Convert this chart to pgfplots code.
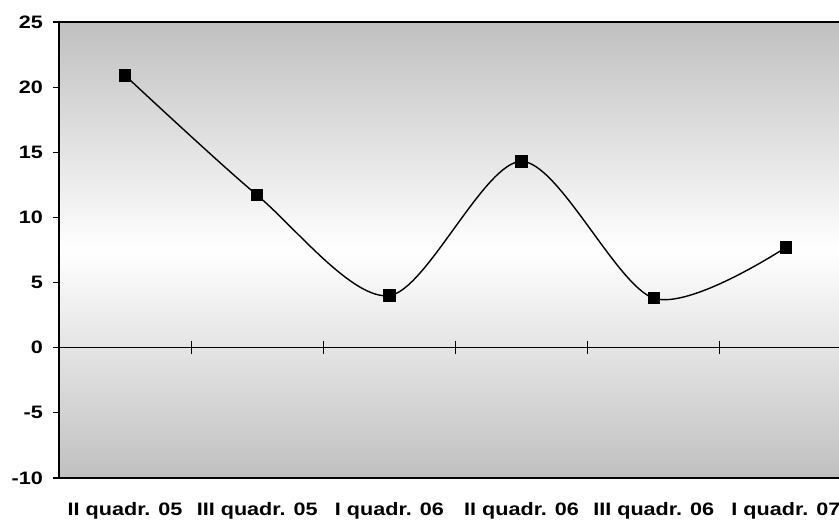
\documentclass[border=0pt]{standalone}
\usepackage{pgfplots}
\pgfplotsset{compat=1.18}
\usepackage{fontspec}
\setmainfont{Liberation Sans}
\newfontfamily\labfont{Liberation Sans Bold}[FakeStretch=1.2]
\definecolor{bggray}{RGB}{192,192,192}

\begin{document}
\begin{tikzpicture}
\begin{axis}[
    scale only axis,
    width=793pt, height=456pt,
    xmin=-0.5, xmax=5.5,
    ymin=-10, ymax=25,
    ytick={-10,-5,...,25},
    xtick={0,...,5},
    xticklabels={II quadr. 05, III quadr. 05, I quadr. 06, II quadr. 06, III quadr. 06, I quadr. 07},
    xtick style={draw=none},
    ytick pos=left,
    tick align=outside,
    major tick length=6pt,
    ytick style={line width=1.2pt, black},
    axis line style={line width=1.8pt},
    tick label style={font=\labfont\fontsize{18}{20}\selectfont},
    /pgf/number format/assume math mode=true,
    yticklabel style={inner sep=0pt, xshift=-10pt},
    xticklabel style={inner sep=0pt, anchor=north, yshift=-18pt},
    axis background/.style={top color=bggray, bottom color=bggray, middle color=white},
    clip=false,
]
% zero line with category separators
\draw[line width=1.3pt] (axis cs:-0.5,0) -- (axis cs:5.5,0);
\draw[line width=1.2pt] ([yshift=-6.5pt]axis cs:0.5,0) -- ([yshift=6.5pt]axis cs:0.5,0);
\draw[line width=1.2pt] ([yshift=-6.5pt]axis cs:1.5,0) -- ([yshift=6.5pt]axis cs:1.5,0);
\draw[line width=1.2pt] ([yshift=-6.5pt]axis cs:2.5,0) -- ([yshift=6.5pt]axis cs:2.5,0);
\draw[line width=1.2pt] ([yshift=-6.5pt]axis cs:3.5,0) -- ([yshift=6.5pt]axis cs:3.5,0);
\draw[line width=1.2pt] ([yshift=-6.5pt]axis cs:4.5,0) -- ([yshift=6.5pt]axis cs:4.5,0);
\addplot[black, line width=1.4pt, smooth, mark=square*, mark size=5.5pt,
    mark options={solid, fill=black}] coordinates {
    (0,20.9) (1,11.7) (2,4.0) (3,14.3) (4,3.8) (5,7.7)
};
\end{axis}
\pgfresetboundingbox
\path[use as bounding box] ([shift={(-59pt,-43pt)}]current axis.south west) rectangle ++(839pt,521pt);
\end{tikzpicture}
\end{document}
